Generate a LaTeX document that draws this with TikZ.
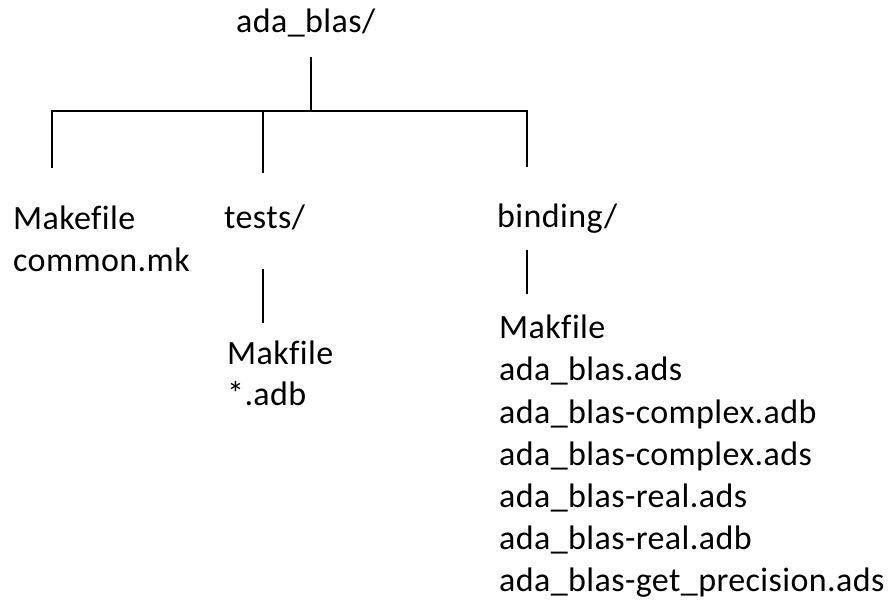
\documentclass[tikz,border=0pt]{standalone}
\usepackage{fontspec}
\setmainfont{Carlito}[Ligatures=NoCommon,LetterSpace=1.2]
\begin{document}
\begin{tikzpicture}[x=1pt,y=-1pt,
  entry/.style={anchor=base west,inner sep=0pt,font=\fontsize{34}{41}\selectfont},
  branch/.style={line width=1.6pt,line cap=rect}]
\useasboundingbox (0,0) rectangle (891,601);

% directory root
\node[entry] (root) at (236,33) {ada\_blas/};

% first level
\node[entry] (mk)      at (13,230)  {Makefile};
\node[entry] (common)  at (13,272)  {common.mk};
\node[entry] (tests)   at (224,229) {tests/};
\node[entry] (binding) at (497,228) {binding/};

% contents of tests/
\node[entry] (tmk)  at (227,364) {Makfile};
\node[entry] (tadb) at (227,405) {*.adb};

% contents of binding/
\node[entry] (b1) at (499,339) {Makfile};
\node[entry] (b2) at (499,381) {ada\_blas.ads};
\node[entry] (b3) at (499,423) {ada\_blas-complex.adb};
\node[entry] (b4) at (499,465) {ada\_blas-complex.ads};
\node[entry] (b5) at (499,507) {ada\_blas-real.ads};
\node[entry] (b6) at (499,549) {ada\_blas-real.adb};
\node[entry] (b7) at (499,591) {ada\_blas-get\_precision.ads};

% branch points
\coordinate (rtop) at (311,58);
\coordinate (rj)   at (311,111);
\coordinate (lj)   at (52,111);
\coordinate (mj)   at (263,111);
\coordinate (bj)   at (527,111);
\coordinate (lend) at (52,167);
\coordinate (mend) at (263,172);
\coordinate (bend) at (527,166);
\coordinate (tt)   at (263,270);
\coordinate (tb)   at (263,322);
\coordinate (bt)   at (527,251);
\coordinate (bb)   at (527,293);

\draw[branch] (rtop) -- (rj);
\draw[branch] (lend) -- (lj) -- (bj) -- (bend);
\draw[branch] (mj) -- (mend);
\draw[branch] (tt) -- (tb);
\draw[branch] (bt) -- (bb);
\end{tikzpicture}
\end{document}
